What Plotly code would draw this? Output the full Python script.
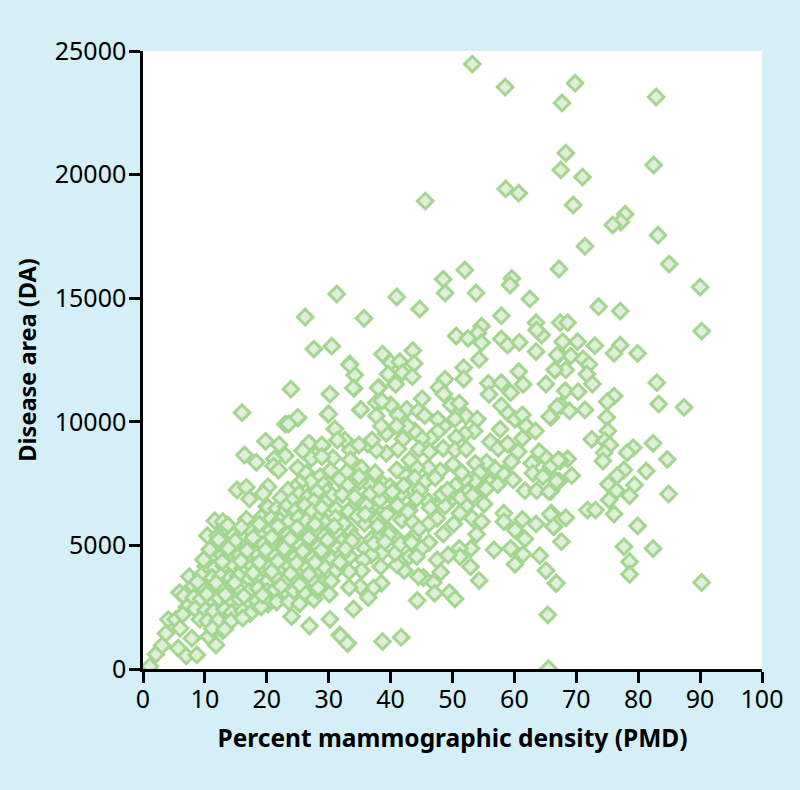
import plotly.graph_objects as go

# Sparse upper points
pmd_top = [53.2,58.5,69.8,67.7,82.9,82.5,68.3,67.5,71,69.5,
           45.6,58.6,60.7,77.9,77.2,75.9,83.2,71.4,85,67.2,
           52,90,59.6,59.3,48.5,48.8,53.8,31.3,41,62.5,
           44.7,26.2,35.7,57.9]
area_top = [24470,23540,23700,22900,23140,20390,20870,20190,19900,18770,
            18930,19420,19250,18400,18080,17960,17550,17100,16380,16180,
            16140,15450,15800,15530,15770,15210,15210,15170,15050,14970,
            14560,14240,14185,14290]

# Right-hand side
pmd_right = [73.6,77.1,67.4,68.6,90.25,67.8,70.2,73,77.1,76.1,
             79.9,67.2,69.1,71.1,72.05,66.6,68.3,71.7,72.6,83,
             68.2,70.3,76.1,75,67.5,68.9,71.4,83.3,87.4,65.9,
             74.9,75.1,72.5,74.6,75.4,82.4,79.2,78.2,74.5,74.3,
             84.7,68.6,67.4,65.9,77.7,81.3,76.6,69.25,67.2,75.2,
             79.4,76.5,78.6,84.9,65.9,75.3,71.8,73.1,76.1,66,
             68.3,66.4,79.9,67.6,77.7,82.4,78.6,78.6,66.7,90.25,
             65.4,65.5]
area_right = [14656,14480,14010,14010,13670,13240,13240,13080,13100,12770,
              12770,12730,12660,12540,12320,12100,12100,11930,11530,11583,
              11260,11220,11040,10810,10650,10440,10480,10720,10585,10180,
              10180,9630,9290,9240,9060,9130,8950,8750,8750,8415,
              8480,8500,8415,8186,8050,8010,7820,7820,7600,7470,
              7445,7215,7010,7080,7200,6840,6430,6430,6270,6300,
              6120,5760,5790,5150,4950,4870,4340,3830,3470,3500,
              2190,10]

# Central band
pmd_mid = [33.4,34.2,34.1,38.7,40,41.5,43.6,43.8,39.6,41.9,
           43.5,40.8,38.1,35.1,37.7,40,37.7,42.6,45.1,44.5,
           45.5,41.2,63.5,64.4,63.6,63.5,54.7,54.1,50.6,52.5,
           54.7,57.9,58.9,60.8,54.3,51.8,51.8,48.8,47.8,48.6,
           49.8,51.1,55.8,55.9,57.9,59.4,60.7,61.4,65.1,66.5,
           66.9,66.9,65.7,57.9,59,60.1,61.3,61.9,63.4,57.7,
           52.2,50.4,54,53.5,52,50.6,48.6,47.6,47.6,46.5,
           45,43.9,42.7,41,39.3,38.5,42,41.2,39.3,37.7,
           36.3,33.5,33.5,44.6,46.3,48.5,50.4,52.2,56.1,57.4,
           58.9,61.3,60.6,64,65.2,62.8,66,67.1,63,64.6,
           66.8,59.8,61.7,63.6,65.6,59.5,58.2,56.8,55.5,53.7,
           54.4,53.6,56,55.1,52.5,52,51.5,50.1,48,46.1,
           44.2,43.1,50.5,50,48.6,48.8,52.2,55.1,51.2,53.2,
           54.7,53.9,50.2,47.5,46.1,48.5,58.3,61.3,58.3,63.5,
           65.8,66.3,60.1,61.7,59.4,61.4,56.7,53,51.1,51.2,
           49.3,46.2,45,43.6,47.5,52.9,48.1,54.3,60.1,64.1,
           65.1,66.8,46.9,47.1,49.5,50.4,44.3,45.3,44.5,
           42.2,41,43,44.2,40.7,38.5,39.6,41.8,43.5,43,
           41.5,44.7,46.1,38.3,38,35.8,36.9,35.8,36.9,33.4,
           35.6,38.4,35.3,33.3,38.5,37.2,35.1,33.3,36.4,34,
           41.7,38.7,33.1,31.8,38.3,36.6,35,35,33.6,36.9,
           40.7,42.3,41,38.8,37.5,35.3,32.9,32.9,41.8,44.2,
           39.9,33.4,34,31.8,41,38.3,31.8,32,
           33.4,34,27.6,30.5,30.2,23.9,25,29.9,23,35.2,
           38.6,38,37,34.9,32.6,30.7,27,27.8,25,28.9]
area_mid = [12340,11890,11350,12740,12390,12430,12880,12360,11930,11990,
            11825,11515,11395,10480,10770,10680,10235,10505,10936,10437,
            10250,10275,14010,13510,13710,12840,13870,13580,13470,13376,
            13200,13350,13100,13214,12526,12190,11730,11720,11390,11125,
            10680,10750,11555,11110,11580,11180,12030,11515,11530,12100,
            12700,10610,10210,10650,10340,10100,10275,9830,9630,9700,
            10235,10110,10110,9630,9510,9370,9830,10100,9600,9330,
            9330,9630,9830,9830,9530,9830,9300,8900,8725,8860,
            9100,8860,8455,8900,8790,8930,8860,8900,9190,8930,
            9100,9330,8790,8790,8520,8320,8226,8455,7915,7780,
            7600,7650,7215,7215,7175,8390,7915,8120,8360,8320,
            7940,7600,7540,7240,7175,7690,7940,8280,8010,8146,
            8146,8455,7420,6905,6905,6595,6595,6675,6300,6100,
            5960,5450,5870,6100,5870,5460,6300,6050,5960,5870,
            6260,5760,5620,5260,4880,4640,4816,4880,4880,4545,
            4610,5110,4880,5330,4410,4140,3913,3576,4236,4585,
            3980,3470,3500,3060,3090,2835,2770,3700,3737,
            3980,4210,4546,4546,4680,4680,5625,6030,5960,6430,
            6500,7240,6770,6300,6030,5890,5250,4880,4610,4546,
            4410,4140,3980,3940,3470,3266,3333,3300,2890,2430,
            1280,1110,1040,1380,6840,7440,7580,6770,6500,6540,
            6840,7850,8050,7470,7940,8120,7370,7980,7110,6905,
            7380,5625,5330,5220,5290,5490,6165,5760,
            12300,11370,12940,13060,11120,11320,10150,10310,9900,10500,
            10840,11370,9260,9060,9260,8535,9100,8660,8130,9020]

# Lower-left wedge
pmd_left = [16,25,23.5,30,31,31.4,19.8,22,16.4,18.3,
            23,21.2,21.1,21.9,26.8,28.9,25.8,27.2,28.9,15.2,
            16.7,17.2,20.2,19.4,11.6,12.9,16.7,10.4,12.1,11.8,
            20,19.3,7.5,5.9,9.3,4.1,5.3,6,3.7,2.1,
            3.1,1.1,5.7,7,8.7,11.8,7.9,10.6,24,26.9,
            30.2,31.9,33,27.6,12.9,
            26.4,28.6,30.3,31.7,27.1,25.3,29.2,33.1,24.6,29.7,
            23.4,25.2,26.7,28.1,30.6,32.2,22.3,27.6,24.1,29.4,
            20.2,21.6,23.1,24.7,26.1,27.3,28.9,31.2,33.2,22.4,
            19.1,20.7,22.1,23.6,25.1,26.4,28.2,29.6,31.1,32.4,
            14.6,16.2,17.4,19.2,20.6,22.2,23.4,25.2,26.6,28.1,
            29.3,31.2,15.1,16.4,18.2,19.4,21.1,22.6,24.2,25.4,
            27.2,28.3,30.1,31.4,13.2,14.1,12.4,15.6,17.2,18.4,
            20.1,21.3,23.2,24.4,26.2,27.4,29.1,30.6,32.1,11.1,
            10.1,11.6,13.1,14.6,16.1,17.6,19.2,20.4,22.1,23.6,
            25.2,26.4,28.1,29.3,31.2,9.4,11.2,12.6,14.1,15.4,
            17.2,18.3,20.2,21.4,23.1,24.6,26.2,27.3,29.2,30.4,
            8.1,9.6,11.1,12.4,14.2,15.3,17.1,18.6,20.1,21.3,
            23.2,24.4,26.1,28.2,30.1,6.6,8.2,9.4,11.2,12.3,
            14.1,15.6,17.2,18.4,20.2,21.6,23.6,25.3,7.1,8.4,
            10.1,11.4,13.2,14.3,16.1,17.3,19.1,9.2,10.4,12.1,
            14.2,6.4,16.1,11.2,13.2]
area_left = [10370,10180,9910,10315,9710,9260,9210,9075,8657,8360,
             8630,8500,8210,8050,9130,9060,8830,8520,8590,7240,
             7350,6880,7370,7100,6000,5960,6055,5395,5395,4880,
             6570,6160,3737,3090,3530,2000,2000,1650,1440,600,
             950,100,840,530,570,970,1240,1310,2120,1740,
             2010,1340,1040,2820,1550,
             7920,7780,8030,7680,7590,7520,7470,7420,7330,7160,
             7230,7080,6990,7170,7020,7060,6930,6790,6820,6740,
             6540,6480,6570,6430,6620,6380,6520,6460,6380,6230,
             6130,6090,6010,5980,6120,5990,6060,5940,6110,5880,
             5410,5280,5620,5490,5610,5520,5440,5610,5430,5520,
             5380,5560,4990,4880,5120,5040,5110,4980,5120,4990,
             5060,4930,5070,4880,5060,4690,4510,4610,4530,4670,
             4590,4560,4640,4490,4610,4480,4570,4440,4620,4390,
             4160,4090,4170,4210,4080,4160,4030,4170,4040,4160,
             4030,4110,3980,4120,3990,3790,3690,3760,3680,3770,
             3640,3710,3580,3720,3590,3660,3530,3610,3480,3560,
             3360,3290,3240,3310,3180,3260,3130,3270,3140,3210,
             3080,3160,3090,3170,3030,2960,2890,2840,2780,2860,
             2730,2810,2690,2760,2630,2710,2720,2640,2510,2440,
             2390,2340,2410,2280,2360,2240,2520,2010,1940,1960,
             1930,2210,2060,1640,1610]

# Extra points filling the dense core
pmd_core = [13.7,15.9,18.8,21.8,24.9,27.8,30.9,12.2,14.9,17.8,
            20.8,23.8,26.8,29.8,33.7,10.8,13.8,16.8,19.8,22.8,
            25.8,28.8,32.7,9.8,12.8,15.8,18.8,21.8,24.8,27.8,
            31.8,8.8,11.8,14.8,17.8,20.8,23.8,26.8,10.3,13.3,
            16.3,19.3,22.3,25.3,28.3,34.6,36.2,37.8,39.4,41.1,
            42.8,44.6,46.4,48.3,34.9,36.7,38.2,40.3,42.1,43.9,
            45.7,47.2,49.2,51.3,53.2,55.4,57.3,36.1,37.9,39.7,
            41.6,43.4,34.2,35.9,37.3,39.1]
area_core = [5820,5740,5860,5780,5720,5860,5770,5240,5180,5310,
             5330,5260,5310,5220,5180,4830,4880,4790,4820,4870,
             4760,4790,4860,4420,4340,4370,4320,4360,4290,4310,
             4320,3520,3480,3490,3890,3940,3860,3830,3030,3010,
             2950,2990,3360,3410,3290,6180,6420,6010,6260,6620,
             6360,5680,6520,7060,7780,7090,7280,7160,7420,7730,
             7610,7730,7230,6930,7020,7290,7460,6620,5790,5430,
             5060,5120,6960,6260,5080,5140]

pmd = pmd_top + pmd_right + pmd_mid + pmd_left + pmd_core
area = area_top + area_right + area_mid + area_left + area_core

x_ticks = [0, 10, 20, 30, 40, 50, 60, 70, 80, 90, 100]
y_ticks = [0, 5000, 10000, 15000, 20000, 25000]

fig = go.Figure(go.Scatter(
    x=pmd, y=area, mode="markers",
    marker=dict(symbol="diamond", size=12, color="#DFF0D8",
                line=dict(color="#A4D591", width=3)),
))

axis_common = dict(
    showgrid=False, zeroline=False, showline=True, linecolor="black", linewidth=2.5,
    ticks="outside", ticklen=11, tickwidth=2.5, tickcolor="black",
    tickfont=dict(family="Noto Sans", size=25, color="black"),
)
fig.update_xaxes(range=[0, 100], tickmode="array", tickvals=x_ticks, ticklabelstandoff=-5,
                 title=dict(text="<b>Percent mammographic density (PMD)</b>", standoff=17,
                            font=dict(family="Noto Sans", size=24.5, color="black")),
                 **axis_common)
fig.update_yaxes(range=[0, 25000], tickmode="array", tickvals=y_ticks, tickformat="d",
                 ticklabelstandoff=-2,
                 title=dict(text="<b>Disease area (DA)</b>", standoff=12,
                            font=dict(family="Noto Sans", size=23.5, color="black")),
                 **axis_common)
fig.update_layout(
    width=800, height=790, showlegend=False,
    paper_bgcolor="#D4EFF7", plot_bgcolor="white",
    margin=dict(l=143, r=38, t=51, b=121, autoexpand=False),
)
fig.write_html("out.html", config={"displayModeBar": False},
               post_script="document.body.style.margin='0';document.body.style.overflow='hidden';")
